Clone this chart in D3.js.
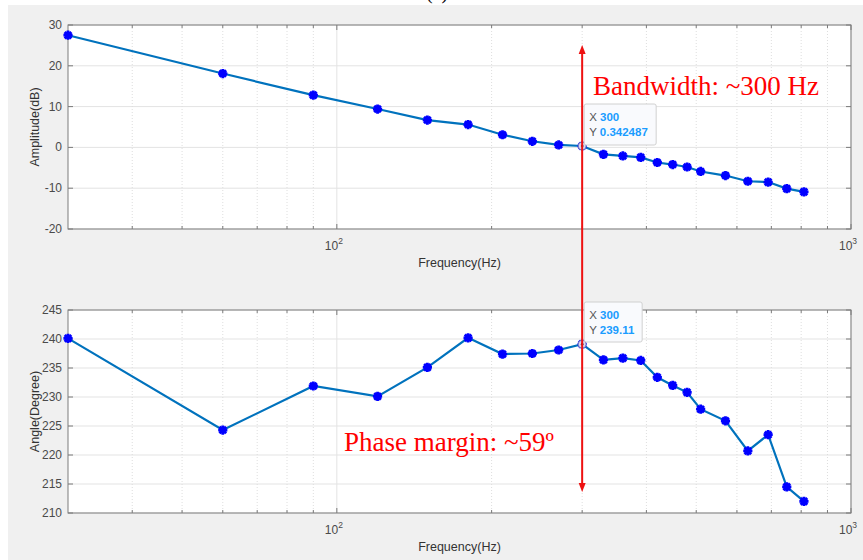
<!DOCTYPE html>
<html>
<head>
<meta charset="utf-8">
<script src="https://cdn.jsdelivr.net/npm/d3@7"></script>
<style>
  body { margin: 0; background: #fff; }
  svg { display: block; }
</style>
</head>
<body>
<div id="chart"></div>
<script>
"use strict";

const freq = [30, 60, 90, 120, 150, 180, 210, 240, 270, 300, 330, 360, 390, 420, 450, 480, 510, 570, 630, 690, 750, 810];
const amplitude = [27.5, 18.1, 12.8, 9.4, 6.7, 5.6, 3.1, 1.5, 0.6, 0.342487, -1.7, -2.1, -2.45, -3.7, -4.2, -4.8, -5.9, -6.9, -8.3, -8.5, -10.1, -10.9];
const phase = [240.1, 224.3, 231.9, 230.1, 235.1, 240.2, 237.4, 237.5, 238.1, 239.11, 236.4, 236.7, 236.3, 233.4, 232.0, 230.8, 227.9, 225.9, 220.7, 223.5, 214.5, 212.0];

const ampTicks = [-20, -10, 0, 10, 20, 30];
const phaseTicks = [210, 215, 220, 225, 230, 235, 240, 245];
const majorFreqTicks = [100, 1000];
const minorFreqTicks = [40, 50, 60, 70, 80, 90, 200, 300, 400, 500, 600, 700, 800, 900];

const tipFreq = 300;
const tipAmp = "0.342487";
const tipPhase = "239.11";

const W = 863, H = 560;
const svg = d3.select("#chart").append("svg")
    .attr("width", W)
    .attr("height", H)
    .style("font-family", "'Liberation Sans', Arial, sans-serif");

// figure background
svg.append("rect").attr("width", W).attr("height", H).attr("fill", "#ffffff");
svg.append("rect").attr("x", 8).attr("y", 5).attr("width", W - 8).attr("height", H - 5).attr("fill", "#f0f0f0");

// caption above the figure, cut off by the crop
svg.append("text")
    .attr("x", 437).attr("y", -1)
    .attr("text-anchor", "middle")
    .style("font-family", "'Liberation Serif', 'Times New Roman', serif")
    .style("font-size", "20px")
    .text("(a)");

const x = d3.scaleLog().domain([30, 1000]).range([68, 851]);

const drawPanel = function(y0, y1, yDomain, yTicks, values, yLabel){
    const y = d3.scaleLinear().domain(yDomain).range([y1, y0]);
    const g = svg.append("g");
    const left = x.range()[0], right = x.range()[1];

    g.append("rect")
        .attr("x", left).attr("y", y0)
        .attr("width", right - left).attr("height", y1 - y0)
        .attr("fill", "#ffffff");

    // grid
    g.selectAll(".hgrid").data(yTicks).enter().append("line")
        .attr("x1", left).attr("x2", right)
        .attr("y1", d => y(d)).attr("y2", d => y(d))
        .attr("stroke", "#e3e3e3").attr("stroke-width", 1);
    g.selectAll(".vminor").data(minorFreqTicks).enter().append("line")
        .attr("x1", d => x(d)).attr("x2", d => x(d))
        .attr("y1", y0).attr("y2", y1)
        .attr("stroke", "#dedede").attr("stroke-width", 1)
        .attr("stroke-dasharray", "1,2");
    g.selectAll(".vmajor").data(majorFreqTicks).enter().append("line")
        .attr("x1", d => x(d)).attr("x2", d => x(d))
        .attr("y1", y0).attr("y2", y1)
        .attr("stroke", "#e3e3e3").attr("stroke-width", 1);

    // ticks (inside, mirrored)
    const tickCol = "#7a7a7a";
    g.selectAll(".tminor").data(minorFreqTicks).enter().append("path")
        .attr("d", d => `M${x(d)},${y0}v3M${x(d)},${y1}v-3`)
        .attr("stroke", tickCol).attr("stroke-width", 1);
    g.selectAll(".tmajor").data(majorFreqTicks).enter().append("path")
        .attr("d", d => `M${x(d)},${y0}v5M${x(d)},${y1}v-5`)
        .attr("stroke", tickCol).attr("stroke-width", 1);
    g.selectAll(".ty").data(yTicks).enter().append("path")
        .attr("d", d => `M${left},${y(d)}h5M${right},${y(d)}h-5`)
        .attr("stroke", tickCol).attr("stroke-width", 1);

    // frame
    g.append("rect")
        .attr("x", left).attr("y", y0)
        .attr("width", right - left).attr("height", y1 - y0)
        .attr("fill", "none").attr("stroke", "#7d7d7d").attr("stroke-width", 1);

    // tick labels
    g.selectAll(".ylab").data(yTicks).enter().append("text")
        .attr("x", left - 6).attr("y", d => y(d) + 4)
        .attr("text-anchor", "end")
        .style("font-size", "12px").attr("fill", "#4a4a4a")
        .text(d => d);
    const xl = g.selectAll(".xlab").data(majorFreqTicks).enter().append("text")
        .attr("x", d => x(d) - 3).attr("y", y1 + 21)
        .attr("text-anchor", "middle")
        .style("font-size", "12px").attr("fill", "#4a4a4a");
    xl.append("tspan").text("10");
    xl.append("tspan").attr("dy", -6).style("font-size", "8.5px").text(d => Math.round(Math.log10(d)));

    g.append("text")
        .attr("x", (left + right) / 2).attr("y", y1 + 38)
        .attr("text-anchor", "middle")
        .style("font-size", "12.5px").attr("fill", "#333333")
        .text("Frequency(Hz)");
    g.append("text")
        .attr("transform", `translate(39,${(y0 + y1) / 2}) rotate(-90)`)
        .attr("text-anchor", "middle")
        .style("font-size", "12.5px").attr("fill", "#333333")
        .text(yLabel);

    // data line
    const pts = freq.map((f, i) => [f, values[i]]);
    g.append("path")
        .datum(pts)
        .attr("d", d3.line().x(d => x(d[0])).y(d => y(d[1])))
        .attr("fill", "none").attr("stroke", "#0072bd").attr("stroke-width", 2.2);

    // '*' markers, 8 spokes
    const r = 4.6;
    const k = r * 0.72;
    const star = `M${-r},0H${r}M0,${-r}V${r}M${-k},${-k}L${k},${k}M${-k},${k}L${k},${-k}`;
    g.selectAll(".mk").data(pts).enter().append("path")
        .attr("transform", d => `translate(${x(d[0])},${y(d[1])})`)
        .attr("d", star)
        .attr("stroke", "#0000ff").attr("stroke-width", 2.8).attr("fill", "none");

    // data tip marker
    const ti = freq.indexOf(tipFreq);
    const tx = x(tipFreq), ty = y(values[ti]);
    g.append("circle").attr("cx", tx).attr("cy", ty).attr("r", 4)
        .attr("fill", "#d8d8f0").attr("stroke", "#7070c0").attr("stroke-width", 1);
    g.append("circle").attr("cx", tx).attr("cy", ty).attr("r", 1.3).attr("fill", "#202020");

    return {y: y, tx: tx, ty: ty};
};

const addTip = function(bx, by, bw, bh, yText){
    const g = svg.append("g").style("font-size", "11.5px");
    g.append("rect")
        .attr("x", bx).attr("y", by).attr("width", bw).attr("height", bh)
        .attr("rx", 2)
        .attr("fill", "#f9fafd").attr("stroke", "#d0d0d0").attr("stroke-width", 1);
    const t1 = g.append("text").attr("x", bx + 5).attr("y", by + 17);
    t1.append("tspan").attr("fill", "#555555").text("X ");
    t1.append("tspan").attr("fill", "#1a9cff").style("font-weight", "bold").text(tipFreq);
    const t2 = g.append("text").attr("x", bx + 5).attr("y", by + 32);
    t2.append("tspan").attr("fill", "#555555").text("Y ");
    t2.append("tspan").attr("fill", "#1a9cff").style("font-weight", "bold").text(yText);
};

const ampPanel = drawPanel(25, 229, [-20, 30], ampTicks, amplitude, "Amplitude(dB)");
const phasePanel = drawPanel(310, 513, [210, 245], phaseTicks, phase, "Angle(Degree)");

addTip(ampPanel.tx + 2, 104, 72, 41, tipAmp);
addTip(phasePanel.tx + 2, 302, 58, 40, tipPhase);

// red annotation arrow
const red = "#ee1111";
const ax = x(tipFreq);
svg.append("line")
    .attr("x1", ax).attr("x2", ax).attr("y1", 52).attr("y2", 485)
    .attr("stroke", red).attr("stroke-width", 2);
svg.append("path")
    .attr("d", `M${ax},45L${ax - 3.5},54L${ax + 3.5},54Z`)
    .attr("fill", red);
svg.append("path")
    .attr("d", `M${ax},492L${ax - 3.5},483L${ax + 3.5},483Z`)
    .attr("fill", red);

svg.append("text")
    .attr("x", 593).attr("y", 95)
    .style("font-family", "'Liberation Serif', 'Times New Roman', serif")
    .style("font-size", "27px").attr("fill", "#ff0000")
    .text("Bandwidth: ~300 Hz");
svg.append("text")
    .attr("x", 344).attr("y", 451)
    .style("font-family", "'Liberation Serif', 'Times New Roman', serif")
    .style("font-size", "27px").attr("fill", "#ff0000")
    .text("Phase margin: ~59º");
</script>
</body>
</html>
